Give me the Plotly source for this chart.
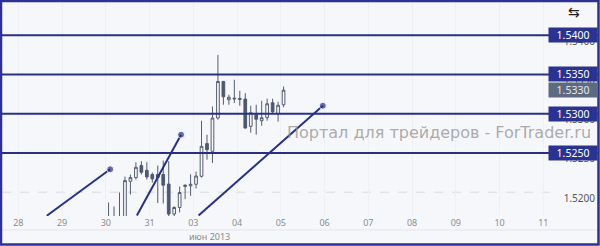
import plotly.graph_objects as go

# ---------------- data ----------------
day_labels = ["28", "29", "30", "31", "03", "04", "05", "06", "07", "08", "09", "10", "11"]
month_label = "июн 2013"
bars_per_day = 8  # 3-hour bars

bar_day = ["30"] * 8 + ["31"] * 8 + ["03"] * 8 + ["04"] * 8 + ["05"] * 1
bar_slot = list(range(8)) * 4 + [0]

opens = [1.5156, 1.5166, 1.5162, 1.5166, 1.52139, 1.52186, 1.52339, 1.52279,
         1.52225, 1.52225, 1.52225, 1.52104, 1.51722, 1.51805, 1.52072, 1.52081,
         1.52101, 1.52203, 1.52619, 1.52521, 1.52945, 1.53411, 1.53178, 1.53187,
         1.53194, 1.53187, 1.52839, 1.52987, 1.52911, 1.52949, 1.53140, 1.53000,
         1.53114]
highs = [1.51869, 1.51818, 1.51996, 1.52199, 1.52225, 1.52381, 1.52394, 1.52381,
         1.52250, 1.52339, 1.52403, 1.52396, 1.51822, 1.52072, 1.52101, 1.52228,
         1.52263, 1.52911, 1.52733, 1.53093, 1.53750, 1.53419, 1.53242, 1.53432,
         1.53292, 1.53263, 1.53102, 1.53114, 1.53165, 1.53191, 1.53191, 1.53153,
         1.53347]
lows = [1.5150, 1.5158, 1.5155, 1.5160, 1.51970, 1.52161, 1.52225, 1.52161,
        1.52123, 1.51862, 1.51856, 1.51678, 1.51691, 1.51742, 1.51911, 1.51954,
        1.52047, 1.52186, 1.52415, 1.52373, 1.52924, 1.53114, 1.53114, 1.53136,
        1.53102, 1.52809, 1.52758, 1.52733, 1.52847, 1.52911, 1.53000, 1.52898,
        1.53083]
closes = [1.5166, 1.5165, 1.5168, 1.52148, 1.52186, 1.52317, 1.52254, 1.52195,
          1.52170, 1.52186, 1.52089, 1.51722, 1.51805, 1.51996, 1.52089, 1.52101,
          1.52206, 1.52584, 1.52542, 1.52945, 1.53411, 1.53216, 1.53210, 1.53197,
          1.53184, 1.52818, 1.53013, 1.52930, 1.52949, 1.53127, 1.53025, 1.53108,
          1.53300]

level_prices = [1.5400, 1.5350, 1.5300, 1.5250]
y_ticks = [1.5200, 1.5250, 1.5300, 1.5350, 1.5400]

# trend lines: (start day position, start price, end day position, end price)
trend_x0 = [0.65, 2.71, 4.12]
trend_y0 = [1.51700, 1.51703, 1.51703]
trend_x1 = [2.10, 3.72, 6.96]
trend_y1 = [1.52292, 1.52733, 1.53102]

watermark = "Портал для трейдеров - ForTrader.ru"

# ---------------- styles ----------------
NAVY = "#283086"
BOX = "#2b3391"
BG = "#f6f7fb"
FONT = "Noto Sans"

bar_x = [day_labels.index(d) + (s + 0.5) / bars_per_day for d, s in zip(bar_day, bar_slot)]

fig = go.Figure()

fig.add_trace(go.Candlestick(
    x=bar_x, open=opens, high=highs, low=lows, close=closes,
    increasing=dict(line=dict(color="#555d70", width=1), fillcolor="#f8f8fb"),
    decreasing=dict(line=dict(color="#4d5870", width=1), fillcolor="#4d5870"),
    hoverinfo="skip", showlegend=False,
))

for x0, y0, x1, y1 in zip(trend_x0, trend_y0, trend_x1, trend_y1):
    fig.add_trace(go.Scatter(
        x=[x0, x1], y=[y0, y1], mode="lines+markers",
        line=dict(color=NAVY, width=2),
        marker=dict(size=[0, 7], color=NAVY),
        hoverinfo="skip", showlegend=False, cliponaxis=True,
    ))

shapes = []
# dashed grid line at 1.52
shapes.append(dict(type="line", xref="paper", yref="y", x0=0, x1=0.919,
                   y0=y_ticks[0], y1=y_ticks[0],
                   line=dict(color="#d9dade", width=1, dash="dash"), layer="below"))
for p in level_prices:
    shapes.append(dict(type="line", xref="paper", yref="y", x0=0, x1=1, y0=p, y1=p,
                       line=dict(color=NAVY, width=2), layer="above"))
# faint separator under tick labels
shapes.append(dict(type="line", xref="paper", yref="paper", x0=0, x1=1,
                   y0=-0.0654, y1=-0.0654, line=dict(color="#e3e5ec", width=1)))
# outer frame
shapes.append(dict(type="rect", xref="paper", yref="paper",
                   x0=-1 / 596, x1=596.5 / 596, y0=-28.6 / 214, y1=215 / 214,
                   line=dict(color="#2d3194", width=2.5), fillcolor="rgba(0,0,0,0)",
                   layer="above"))

annotations = []
for p in level_prices:
    annotations.append(dict(xref="paper", yref="y", x=1, y=p, xanchor="right",
                            yanchor="middle", text=f"{p:.4f}", showarrow=False,
                            font=dict(family=FONT, size=10.5, color="white"),
                            bgcolor=BOX, borderpad=1, width=46, height=12))
annotations.append(dict(xref="paper", yref="y", x=1, y=closes[-1], xanchor="right",
                        yanchor="middle", text=f"{closes[-1]:.4f}", showarrow=False,
                        font=dict(family=FONT, size=10.5, color="#e6e8ee"),
                        bgcolor="#5c6b81", borderpad=1, width=46, height=12))
annotations.append(dict(xref="paper", yref="paper", x=0.9916, y=0.388,
                        xanchor="right", yanchor="middle", text=watermark,
                        showarrow=False,
                        font=dict(family="DejaVu Sans", size=16, color="rgba(150,150,150,0.8)")))
annotations.append(dict(xref="x", yref="paper", x=day_labels.index("03"), y=-0.098,
                        xanchor="left", yanchor="middle", xshift=-6, text=month_label,
                        showarrow=False, font=dict(family=FONT, size=9, color="#8a8a8a")))
annotations.append(dict(xref="paper", yref="paper", x=0.9597, y=0.955,
                        xanchor="center", yanchor="middle", text="⇆", showarrow=False,
                        font=dict(family="DejaVu Sans", size=14, color="#222")))

fig.update_layout(
    width=600, height=246,
    margin=dict(l=2, r=2, t=2, b=30),
    paper_bgcolor=BG, plot_bgcolor=BG,
    font=dict(family=FONT),
    showlegend=False,
    shapes=shapes, annotations=annotations,
    xaxis=dict(range=[-0.373, 13.25], tickvals=list(range(len(day_labels))),
               ticktext=day_labels, tickfont=dict(size=9, color="#8c8c8c"),
               showgrid=True, gridcolor="#eef0f4", zeroline=False, showline=False,
               ticks="", rangeslider=dict(visible=False), fixedrange=True),
    yaxis=dict(range=[1.516966, 1.544237], side="right", tickvals=y_ticks,
               tickformat=".4f", ticklabelposition="inside", ticklabelshift=6,
               tickfont=dict(size=10, color="#555"), showgrid=False,
               zeroline=False, showline=False, ticks="", fixedrange=True),
)

fig.write_html("out.html", config=dict(displayModeBar=False))
